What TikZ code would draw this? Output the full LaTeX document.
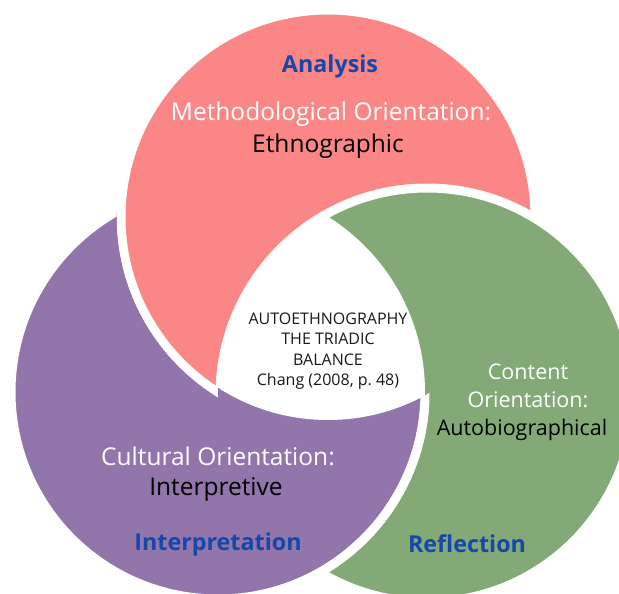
\documentclass[tikz,border=0pt]{standalone}
\usepackage{fontspec}
\setmainfont{Open Sans}
\begin{document}
\definecolor{pinkc}{RGB}{251,134,134}
\definecolor{purplec}{RGB}{145,117,171}
\definecolor{greenc}{RGB}{131,170,118}
\definecolor{titleblue}{RGB}{20,72,170}
\begin{tikzpicture}[x=1pt,y=-1pt,
  disc/.style={line width=9pt,draw=white},
  title/.style={font=\fontsize{23.3}{28}\selectfont\bfseries,text=titleblue},
  orient/.style={font=\fontsize{24.5}{29}\selectfont,text=white,align=center},
  kind/.style={font=\fontsize{24.5}{29}\selectfont,text=black},
  orientsm/.style={font=\fontsize{21.5}{28}\selectfont,text=white,align=center},
  kindsm/.style={font=\fontsize{21.5}{28}\selectfont,text=black},
  core/.style={font=\fontsize{16}{20.3}\selectfont,text=black!90,align=center}]
\useasboundingbox (0,0) rectangle (619,594);
\def\R{207}
\coordinate (P) at (328,217);
\coordinate (U) at (218,392);
\coordinate (G) at (427,395);
% purple, pink, green stacked
\fill[purplec,disc] (U) circle (\R);
\fill[pinkc,disc] (P) circle (\R);
\fill[greenc,disc] (G) circle (\R);
% purple again, only outside the pink disc (circle and frame run in
% opposite directions, so the disc is cut out of the clip)
\begin{scope}
  \clip (P) circle (\R+4.5) (-20,-20) -- (-20,620) -- (640,620) -- (640,-20) -- cycle;
  \fill[purplec,disc] (U) circle (\R);
\end{scope}
% and once more below the centre, hugging the white core
\begin{scope}
  \clip (218,330) rectangle (640,620);
  \clip (P) circle (203) (-20,-20) -- (-20,620) -- (640,620) -- (640,-20) -- cycle;
  \fill[purplec,disc] (U) circle (\R);
\end{scope}
% white centre where all three discs meet
\begin{scope}
  \clip (U) circle (\R);
  \clip (G) circle (\R);
  \fill[white] (P) circle (203);
\end{scope}
% labels
\node[title] (analysis) at (330,66) {Analysis};
\node[orient] (meth) at (331,114) {Methodological Orientation:};
\node[kind] (ethno) at (328,146) {Ethnographic};
\node[core] (centre) at (328,351) {AUTOETHNOGRAPHY\\THE TRIADIC\\BALANCE\\Chang (2008, p.\ 48)};
\node[orientsm] (content) at (528,386) {Content\\Orientation:};
\node[kindsm] (auto) at (522,430) {Autobiographical};
\node[orient] (cult) at (218,456) {Cultural Orientation:};
\node[kind] (interp) at (216,489) {Interpretive};
\node[title] (interpretation) at (218,544) {Interpretation};
\node[title] (reflection) at (467,544) {Reflection};
\end{tikzpicture}
\end{document}
